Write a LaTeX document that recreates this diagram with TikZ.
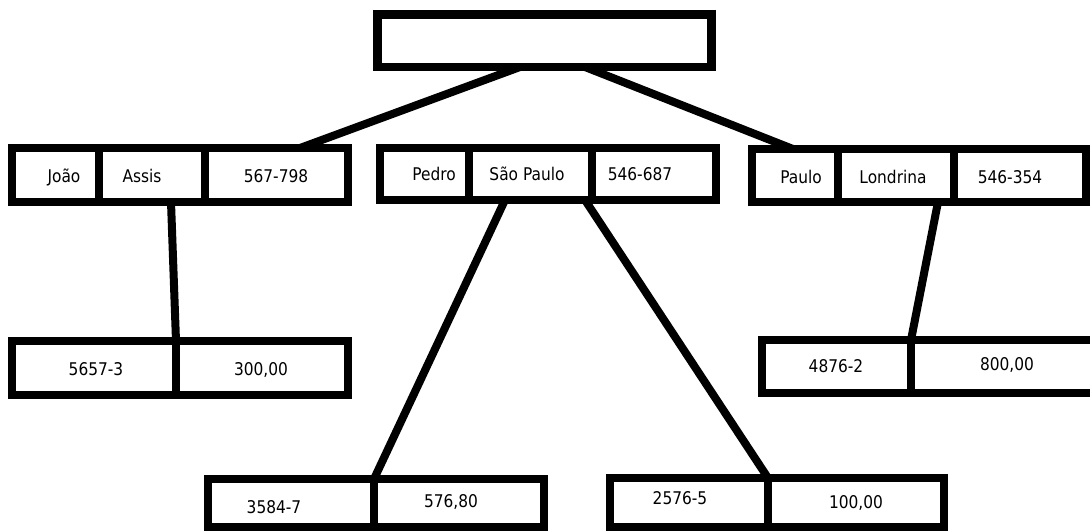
\documentclass[tikz,border=0pt]{standalone}
\usepackage{fontspec}
\usetikzlibrary{backgrounds}
\newfontfamily\lblfont[FakeStretch=0.88]{DejaVu Sans}
\begin{document}
\begin{tikzpicture}[x=1pt,y=-1pt,
  cell/.style 2 args={draw=black,fill=white,line width=8.5pt,
    minimum width=#1pt,minimum height=#2pt,inner sep=0pt,outer sep=0pt},
  link/.style={draw=black,line width=8pt},
  txt/.style={anchor=base,inner sep=0pt,font=\lblfont\fontsize{17.5}{20}\selectfont}]
\useasboundingbox (0,0) rectangle (1090,531);
\clip (0,0) rectangle (1090,531);

% root record
\node[cell={334}{52.5}] (top) at (544.5,40.75) {};

% first level records
\node[cell={87}{54}]  (l1) at (55.5,175) {};
\node[cell={106}{54}] (l2) at (152,175) {};
\node[cell={143}{54}] (l3) at (276.5,175) {};

\node[cell={89}{52}]  (m1) at (424.5,174) {};
\node[cell={123}{52}] (m2) at (530.5,174) {};
\node[cell={124}{52}] (m3) at (654,174) {};

\node[cell={86}{53}]  (r1) at (795,175.5) {};
\node[cell={116}{53}] (r2) at (896,175.5) {};
\node[cell={132}{53}] (r3) at (1020,175.5) {};

% account records
\node[cell={164}{54}] (bl1) at (94,368) {};
\node[cell={172}{54}] (bl2) at (262,368) {};

\node[cell={149}{53}] (br1) at (836.5,366.5) {};
\node[cell={189}{53}] (br2) at (1005.5,366.5) {};

\node[cell={166}{48}] (bm1) at (291,503) {};
\node[cell={170}{48}] (bm2) at (459,503) {};

\node[cell={158}{49}] (bn1) at (689,502.5) {};
\node[cell={176}{49}] (bn2) at (856,502.5) {};

% field values
\node[txt] (tJoao)  at (64,182)   {João};
\node[txt] (tAssis) at (142,182)  {Assis};
\node[txt] (tTelA)  at (276,182)  {567-798};
\node[txt] (tPedro) at (434,180)  {Pedro};
\node[txt] (tSP)    at (527,180)  {São Paulo};
\node[txt] (tTelB)  at (640,180)  {546-687};
\node[txt] (tPaulo) at (801,183)  {Paulo};
\node[txt] (tLond)  at (893,183)  {Londrina};
\node[txt] (tTelC)  at (1010,183) {546-354};

\node[txt] (tAcA)   at (96,375)   {5657-3};
\node[txt] (tValA)  at (261,375)  {300,00};
\node[txt] (tAcB)   at (836,372)  {4876-2};
\node[txt] (tValB)  at (1007,370) {800,00};
\node[txt] (tAcC)   at (274,513)  {3584-7};
\node[txt] (tValC)  at (451,507)  {576,80};
\node[txt] (tAcD)   at (680,504)  {2576-5};
\node[txt] (tValD)  at (856,508)  {100,00};

% tree links
\begin{scope}[on background layer]
\draw[link] ([xshift=-24.5pt]top.south) -- ([xshift=23.5pt]l3.north);
\draw[link] ([xshift=40.5pt]top.south) -- ([xshift=-2pt]r1.north);
\draw[link] ([xshift=19pt]l2.south) -- (bl1.north east);
\draw[link] ([xshift=-25.5pt]m2.south) -- (bm1.north east);
\draw[link] ([xshift=54.5pt]m2.south) -- (bn1.north east);
\draw[link] ([xshift=42pt]r2.south) -- (br1.north east);
\end{scope}
\end{tikzpicture}
\end{document}
